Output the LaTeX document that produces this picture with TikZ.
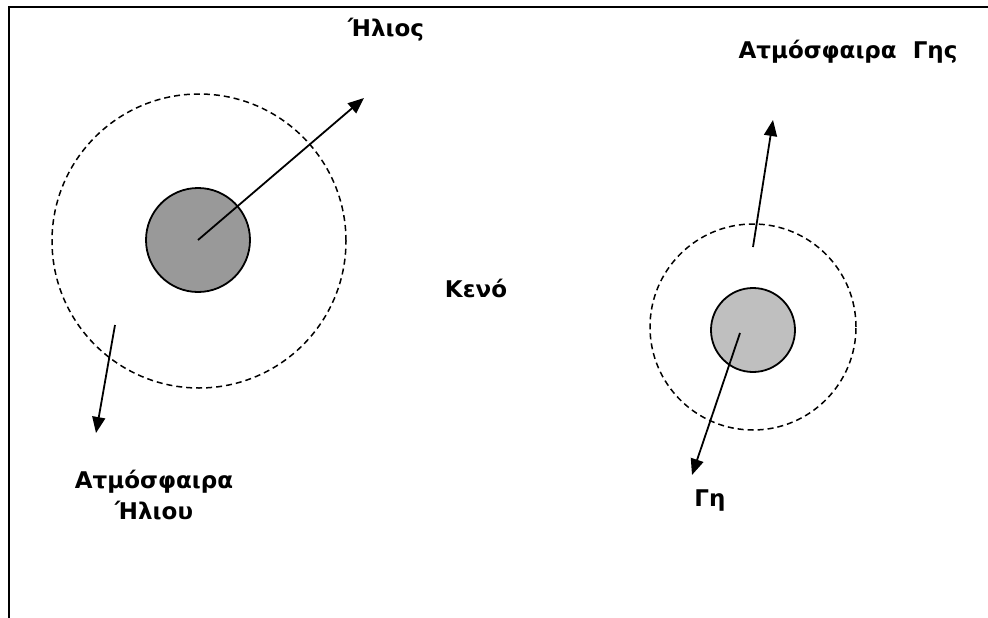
\documentclass[tikz,border=0pt]{standalone}
\usepackage{fontspec}
\setmainfont{DejaVu Sans}[BoldFont={DejaVu Sans Bold}]
\usetikzlibrary{arrows.meta}

\begin{document}
\begin{tikzpicture}[
        x=1pt, y=1pt,
        lbl/.style={font=\fontsize{23}{31}\selectfont\bfseries, align=center, inner sep=0pt},
        body/.style={circle, draw=black, line width=1.8pt, inner sep=0pt},
        atm/.style={circle, draw=black, dash pattern=on 6pt off 4pt, line width=1.5pt, inner sep=0pt},
        ray/.style={line width=1.8pt, -{Triangle[length=16pt, width=13pt]}},
    ]
    \useasboundingbox (0,0) rectangle (988,-618);
    \draw[line width=2.2pt] (9,-618) -- (9,-7) -- (988,-7);

    %====================== ΗΛΙΟΣ (αριστερά) ======================
    \node[atm, minimum size=294pt] (sun-atm) at (199,-241) {};
    \node[body, fill=black!40, minimum size=104pt] (sun) at (198,-240) {};
    \coordinate (sun-tip) at (364,-98);
    \draw[ray] (sun.center) -- (sun-tip);
    \node[lbl] (lbl-sun) at (386,-30) {Ήλιος};

    \coordinate (sunatm-from) at (115,-325);
    \coordinate (sunatm-tip) at (96,-433);
    \draw[ray] (sunatm-from) -- (sunatm-tip);
    \node[lbl] (lbl-sunatm) at (154,-495) {Ατμόσφαιρα\\Ήλιου};

    %====================== ΚΕΝΟ ======================
    \node[lbl] (lbl-void) at (476,-288) {Κενό};

    %====================== ΓΗ (δεξιά) ======================
    \node[atm, minimum size=206pt] (earth-atm) at (753,-327) {};
    \node[body, fill=black!25, minimum size=84pt] (earth) at (753,-330) {};

    \coordinate (earthatm-from) at (753,-247);
    \coordinate (earthatm-tip) at (773,-120);
    \draw[ray] (earthatm-from) -- (earthatm-tip);
    \node[lbl] (lbl-earthatm) at (848,-52) {Ατμόσφαιρα\ \ Γης};

    \coordinate (earth-from) at (740,-333);
    \coordinate (earth-tip) at (692,-475);
    \draw[ray] (earth-from) -- (earth-tip);
    \node[lbl] (lbl-earth) at (710,-501) {Γη};

\end{tikzpicture}
\end{document}
